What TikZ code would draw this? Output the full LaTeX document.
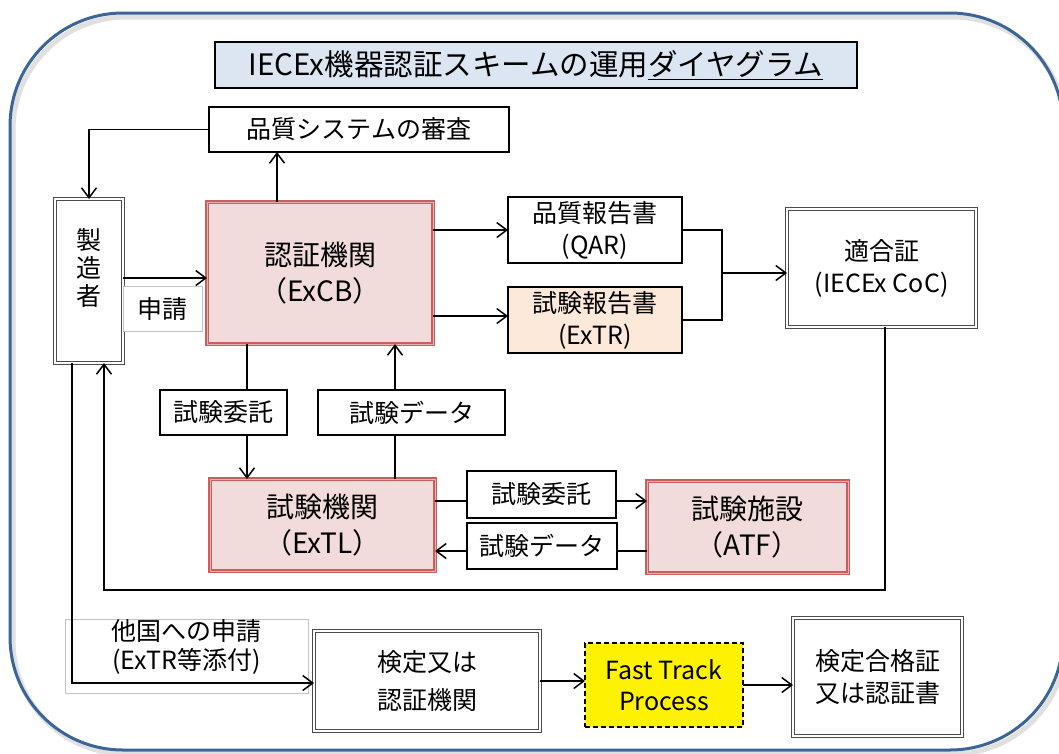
\documentclass[tikz,border=0pt]{standalone}
\usepackage{fontspec}
\setmainfont{Noto Sans CJK JP}
\usetikzlibrary{arrows.meta}
\definecolor{frameblue}{RGB}{60,100,150}
\definecolor{titlefill}{RGB}{220,230,242}
\definecolor{pinkfill}{RGB}{242,220,219}
\definecolor{pinkline}{RGB}{200,95,95}
\definecolor{pinkcore}{RGB}{236,175,175}
\definecolor{peach}{RGB}{253,233,217}
\definecolor{labelgray}{RGB}{195,195,195}
\newcommand{\fsA}{\fontsize{25}{32}\selectfont}
\newcommand{\fsB}{\fontsize{28}{36}\selectfont}
\newcommand{\fsT}{\fontsize{29.5}{32}\selectfont}
\begin{document}
\begin{tikzpicture}[x=1pt,y=-1pt,
  every node/.style={inner sep=0pt, outer sep=0pt, align=center, text=black},
  plainbox/.style={draw=black, line width=1.2pt, fill=white, font=\fsA},
  dblbox/.style={draw=black!70, line width=1.2pt, double=white, double distance=1.1pt, fill=white, font=\fsA},
  redbox/.style={draw=pinkline, line width=1.3pt, double=pinkcore, double distance=0.9pt, fill=pinkfill, font=\fsB},
  lbl/.style={draw=black, line width=1.2pt, fill=white, font=\fsA},
  glbl/.style={draw=labelgray, line width=0.8pt, font=\fsA},
  arr/.style={line width=1.5pt, -{Straight Barb[length=10pt,width=15pt]}},
  conn/.style={line width=1.5pt}]
\useasboundingbox (0,0) rectangle (1059,753);
% frame
\draw[line width=5pt, black!12, rounded corners=113pt] (13,17) rectangle (1066,754);
\draw[line width=3pt, frameblue, rounded corners=113pt] (10,13) rectangle (1063,750);
% title
\node[draw=black, line width=1.3pt, fill=titlefill, minimum width=642pt, minimum height=46pt, font=\fsT] (title) at (536,65) {IECEx機器認証スキームの運用\underline{ダイヤグラム}};
% main nodes
\node[plainbox, minimum width=300pt, minimum height=45pt] (qms) at (359,129.5) {品質システムの審査};
\node[dblbox, minimum width=68pt, minimum height=164pt] (maker) at (89,281) {};
\node[font=\fontsize{25}{28}\selectfont] (makertxt) at (89,268) {製\\造\\者};
\node[redbox, minimum width=226pt, minimum height=142pt] (excb) at (320,273) {認証機関\\（ExCB）};
\node[plainbox, minimum width=174pt, minimum height=66pt] (qar) at (595,230) {品質報告書\\(QAR)};
\node[plainbox, fill=peach, minimum width=174pt, minimum height=66pt] (extr) at (595,320) {試験報告書\\(ExTR)};
\node[dblbox, minimum width=189pt, minimum height=118pt] (coc) at (881.5,268) {適合証\\(IECEx CoC)};
\node[redbox, minimum width=225pt, minimum height=92pt] (extl) at (322.5,525) {試験機関\\（ExTL）};
\node[redbox, minimum width=201pt, minimum height=92pt] (atf) at (747.5,527) {試験施設\\（ATF）};
\node[dblbox, minimum width=226pt, minimum height=100pt, font=\fontsize{25}{38}\selectfont] (kentei) at (427,681) {検定又は\\認証機関};
\node[draw=black, line width=1.6pt, dash pattern=on 5pt off 3pt, fill=yellow, minimum width=158pt, minimum height=84pt, font=\fontsize{25}{31}\selectfont] (fast) at (664,685) {Fast Track\\Process};
\node[dblbox, minimum width=169pt, minimum height=118pt] (cert) at (877.5,677) {検定合格証\\又は認証書};
\node[glbl, minimum width=243pt, minimum height=74pt] (takoku) at (186.5,656) {};
\node[font=\fontsize{25}{29}\selectfont] (takokutxt) at (186.5,647) {他国への申請\\(ExTR等添付)};
% connectors
\draw[arr] (qar.west -| excb.east) -- (qar.west);
\draw[arr] ([yshift=4pt]extr.west -| excb.east) -- ([yshift=4pt]extr.west);
\coordinate (join) at (722,273);
\draw[conn] (qar.east) -| (join);
\draw[conn] (extr.east) -| (join);
\draw[arr] (join) -- (join -| coc.west);
\draw[arr] ([yshift=3pt]maker.east) -- ([yshift=3pt]maker.east -| excb.west);
\draw[arr] ([xshift=-43pt]excb.north) -- ([xshift=-43pt]excb.north |- qms.south);
\draw[arr] (qms.west) -| (maker.north);
\draw[arr] ([xshift=-73pt]excb.south) -- ([xshift=-73pt]excb.south |- extl.north);
\draw[arr] ([xshift=72.5pt]extl.north) -- ([xshift=72.5pt]extl.north |- excb.south);
\draw[arr] ([yshift=24pt]extl.east) -- ([yshift=24pt]extl.east -| atf.west);
\draw[arr] ([yshift=-24pt]atf.west) -- ([yshift=-24pt]atf.west -| extl.east);
\coordinate (ret) at (885,590);
\draw[arr] ([xshift=3.5pt]coc.south) |- ([xshift=15pt]maker.south |- ret) -- ([xshift=15pt]maker.south);
\draw[arr] ([xshift=-17pt]maker.south) |- ([yshift=-2pt]kentei.west);
\draw[arr] (kentei.east) -- (kentei.east -| fast.west);
\draw[arr] (fast.east) -- (fast.east -| cert.west);
% labels on top of connectors
\node[glbl, fill=white, minimum width=79pt, minimum height=45pt] (shinsei) at (162.5,308.5) {申請};
\node[lbl, minimum width=127pt, minimum height=45pt] (itaku1) at (223.5,412.5) {試験委託};
\node[lbl, minimum width=187pt, minimum height=45pt] (data1) at (411.5,412.5) {試験データ};
\node[lbl, minimum width=149pt, minimum height=47pt] (itaku2) at (541.5,494.5) {試験委託};
\node[lbl, minimum width=150pt, minimum height=46pt] (data2) at (542,546) {試験データ};
\end{tikzpicture}
\end{document}
